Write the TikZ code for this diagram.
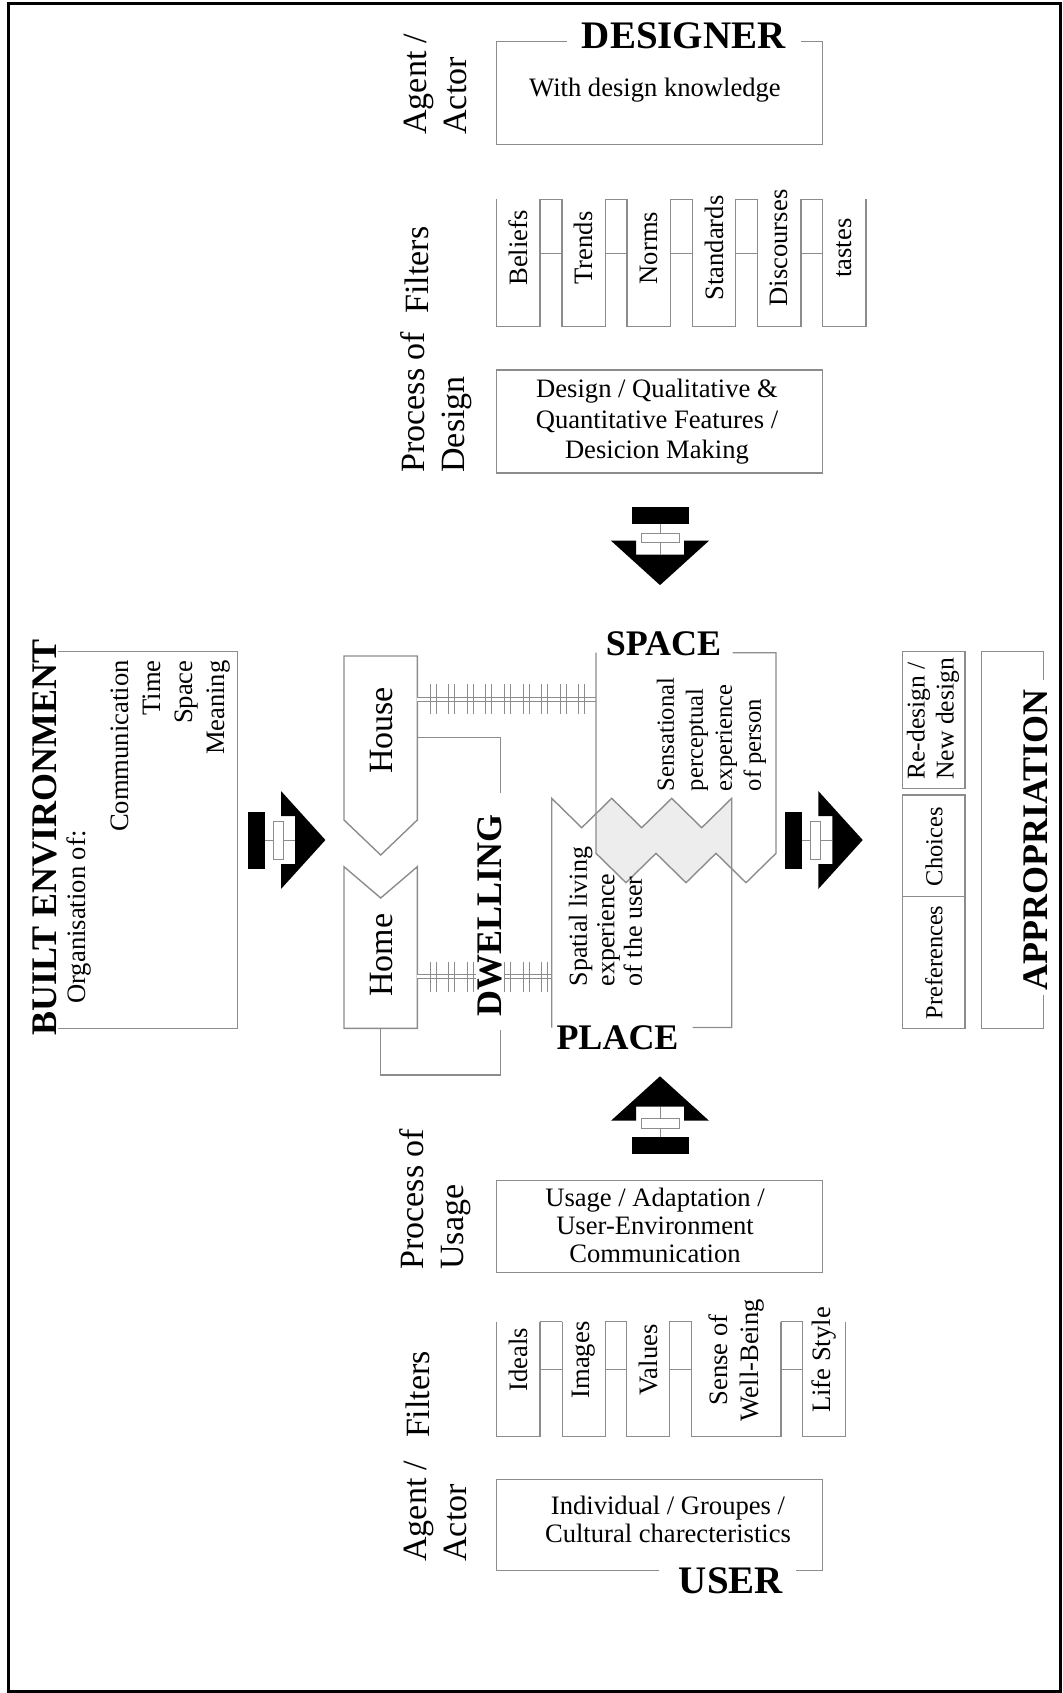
\documentclass[tikz,border=0pt]{standalone}
\usepackage{fontspec}
\setmainfont{Liberation Serif}
\usetikzlibrary{calc}

\definecolor{linegray}{gray}{0.55}
\definecolor{overlapfill}{gray}{0.93}

\newcommand{\dgbody}{\fontsize{13.3}{15.2}\selectfont}
\newcommand{\dgsmall}{\fontsize{12.2}{14.5}\selectfont}
\newcommand{\dgside}{\fontsize{17}{20}\selectfont}
\newcommand{\dgtitle}{\fontsize{18}{20}\selectfont\bfseries}
\newcommand{\dgbig}{\fontsize{19.5}{22}\selectfont\bfseries}

\tikzset{
  frameline/.style={draw=linegray, line width=0.7pt},
  ladder/.style={draw=linegray, line width=0.45pt, double, double distance=1.5pt},
  tick/.style={draw=linegray, line width=0.45pt},
  bodytext/.style={font=\dgbody, inner sep=0pt, align=center},
  sidetext/.style={font=\dgside, rotate=90, align=left, anchor=west, inner sep=0pt},
  filtertext/.style={font=\dgbody, rotate=90, inner sep=0pt, align=center},
  titletext/.style={font=\dgtitle, inner sep=1pt},
  flowarrow/.pic={
    \fill (-28.5,-33.5) rectangle (28.5,-16.5);
    \fill (-49,0) -- (-24,0) -- (-24,14) -- (24,14) -- (24,0) -- (49,0) -- (0,44.4) -- cycle;
    \draw[tick] (0,-16.5) -- (0,14);
    \draw[tick, fill=white] (-19,-7.4) rectangle (19,2);
  }
}

\begin{document}
\begin{tikzpicture}[x=0.5pt, y=-0.5pt]
\useasboundingbox (0,0) rectangle (1063,1693);
% outer frame
\draw[line width=1.5pt] (8,3) rectangle (1060,1691);

% designer side
\node[sidetext] (agentD) at (435,135) {Agent /\\Actor};
\node[sidetext, anchor=center] (filtD) at (417,270) {Filters};
\node[sidetext] (procD) at (436,473) {Process of\\Design};

\draw[frameline] (566.7,41.3) -- (496.7,41.3) -- (496.7,144.3) -- (822.7,144.3) -- (822.7,41.3) -- (800.7,41.3);
\node[titletext, font=\dgbig] (designer) at (683.7,36) {DESIGNER};
\node[bodytext] (designerK) at (655,90) {With design knowledge};

\foreach \txt [count=\i from 0] in {Beliefs,Trends,Norms,Standards,Discourses,tastes}{
  \draw[frameline] ({496.7+65.2*\i},199.3) -- ++(0,127.4) -- ++(43.3,0) -- ++(0,-127.4);
  \node[filtertext] (filtD\i) at ({518.35+65.2*\i},248) {\txt};
}
\foreach \i in {0,...,4}
  \draw[frameline] ({540+65.2*\i},199.3) -- ++(22,0) ({540+65.2*\i},253.3) -- ++(22,0);

\draw[frameline] (496.7,370) rectangle (822.7,473);
\node[bodytext] (procDtext) at (657,422) {Design / Qualitative \&\\Quantitative Features /\\Desicion Making};

\pic at (660,540.7) {flowarrow};

% built environment
\draw[frameline] (58.3,651.7) -- (237.3,651.7) -- (237.3,1028.3) -- (58.3,1028.3);
\node[titletext, rotate=90] (built) at (45,837.5) {BUILT ENVIRONMENT};
\node[bodytext, rotate=90, anchor=west] (organ) at (79,1004) {Organisation of:};
\node[bodytext, rotate=90, anchor=east, align=right, font=\fontsize{13.3}{15.9}\selectfont] (orgList) at (170.7,660) {Communication\\Time\\Space\\Meaning};

\pic[rotate=90] at (281,840) {flowarrow};

% house and home
\draw[frameline] (344,656) -- (417.3,656) -- (417.3,820) -- (380.7,855) -- (344,820) -- cycle;
\draw[frameline] (344,866.7) -- (380.7,898) -- (417.3,866.7) -- (417.3,1028.3) -- (344,1028.3) -- cycle;
\node[sidetext, anchor=center] (house) at (382,730.5) {House};
\node[sidetext, anchor=center] (home) at (382,955) {Home};

\coordinate (houseLink) at (417.3,737.3);
\coordinate (homeLink) at (380.7,1028.3);
\coordinate (dwTop) at (500.7,793.3);
\coordinate (dwBot) at (500.7,1030);
\draw[frameline] (houseLink) -| (dwTop);
\draw[frameline] (homeLink) |- (500.7,1075) -- (dwBot);

% ladders
\coordinate (houseR) at (417.3,699.5);
\coordinate (spaceL) at (596,699.5);
\coordinate (homeR) at (417.3,976.5);
\coordinate (placeL) at (551.7,976.5);
\draw[ladder] (houseR) -- (spaceL);
\foreach \k in {0,...,8}
  \draw[tick] ({430+18.6*\k},684) -- ++(0,30) ({436+18.6*\k},684) -- ++(0,30);
\draw[ladder] (homeR) -- (placeL);
\foreach \k in {0,...,6}
  \draw[tick] ({430+18.6*\k},961.5) -- ++(0,30) ({436+18.6*\k},961.5) -- ++(0,30);
\node[titletext, rotate=90, fill=white] (dwelling) at (490,915) {DWELLING};

% space and place
\begin{scope}
  \clip (596,652.7) -- (776,652.7) -- (776,853.3) -- (746,882.7) -- (716,853.3) -- (686,882.7) -- (656,853.3) -- (626,882.7) -- (596,853.3) -- cycle;
  \fill[overlapfill] (551.7,1027.5) -- (551.7,798.3) -- (581.7,827.7) -- (611.7,798.3) -- (641.7,827.7) -- (671.7,798.3) -- (701.7,827.7) -- (731.7,798.3) -- (731.7,1027.5) -- cycle;
\end{scope}
\draw[frameline] (732.7,652.7) -- (776,652.7) -- (776,853.3) -- (746,882.7) -- (716,853.3) -- (686,882.7) -- (656,853.3) -- (626,882.7) -- (596,853.3) -- (596,652.7);
\draw[frameline] (692.7,1027.5) -- (731.7,1027.5) -- (731.7,798.3) -- (701.7,827.7) -- (671.7,798.3) -- (641.7,827.7) -- (611.7,798.3) -- (581.7,827.7) -- (551.7,798.3) -- (551.7,1027.5);
\node[titletext] (space) at (663.5,644) {SPACE};
\node[titletext] (place) at (617.5,1037.5) {PLACE};
\node[bodytext, rotate=90, anchor=west, align=left, font=\fontsize{12.3}{14.5}\selectfont] (spaceTxt) at (711.5,791.5) {Sensational\\perceptual\\experience\\of person};
\node[bodytext, rotate=90, anchor=west, align=left, font=\fontsize{13}{13.8}\selectfont] (placeTxt) at (605.5,986.7) {Spatial living\\experience\\of the user};

\pic[rotate=90] at (818.3,840) {flowarrow};

% appropriation
\draw[frameline] (902.3,651.7) rectangle (965,788.3);
\draw[frameline] (902.3,795) rectangle (965,1028.3) (902.3,896.7) -- (965,896.7);
\draw[frameline] (1043.3,680) -- (1043.3,651.7) -- (981.7,651.7) -- (981.7,1028.3) -- (1043.3,1028.3) -- (1043.3,995);
\node[bodytext, rotate=90, anchor=west, align=left, font=\fontsize{12.8}{14.5}\selectfont] (redesign) at (933,780) {Re-design /\\New design};
\node[filtertext, font=\dgsmall] (choices) at (934,846.7) {Choices};
\node[filtertext, font=\dgsmall] (prefs) at (934,962.5) {Preferences};
\node[titletext, rotate=90] (approp) at (1036,840) {APPROPRIATION};

% user side
\pic[rotate=180] at (660,1120.7) {flowarrow};

\node[sidetext] (procU) at (435,1270) {Process of\\Usage};
\node[sidetext, anchor=center] (filtU) at (418,1394.5) {Filters};
\node[sidetext] (agentU) at (435,1562) {Agent /\\Actor};

\draw[frameline] (496.7,1180.7) rectangle (822.7,1272.3);
\node[bodytext, font=\fontsize{13.3}{14}\selectfont] (procUtext) at (655,1225) {Usage / Adaptation /\\User-Environment\\Communication};

\foreach \l/\r/\txt [count=\i] in {496.7/540/Ideals, 562.3/605.3/Images, 626.7/669.3/Values, 691.7/781/{Sense of\\Well-Being}, 802.7/845.7/Life Style}{
  \draw[frameline] (\l,1321.7) -- (\l,1436.7) -- (\r,1436.7) -- (\r,1321.7);
  \node[filtertext] (filtU\i) at ({(\l+\r)/2},1360) {\txt};
}
\foreach \l/\r in {540/562.3, 605.3/626.7, 669.3/691.7, 781/802.7}
  \draw[frameline] (\l,1321.7) -- (\r,1321.7) (\l,1369.3) -- (\r,1369.3);

\draw[frameline] (659.3,1570.7) -- (496.7,1570.7) -- (496.7,1479.3) -- (822.7,1479.3) -- (822.7,1570.7) -- (796,1570.7);
\node[titletext, font=\dgbig] (user) at (731,1581) {USER};
\node[bodytext, font=\fontsize{13.3}{13.9}\selectfont] (userK) at (668,1519) {Individual / Groupes /\\Cultural charecteristics};
\end{tikzpicture}
\end{document}
